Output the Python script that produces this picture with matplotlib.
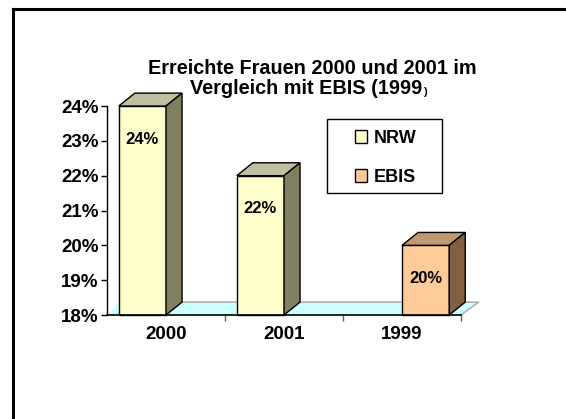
import matplotlib
matplotlib.use("Agg")
import matplotlib.pyplot as plt
from matplotlib.patches import Polygon, Rectangle, Patch
from matplotlib.lines import Line2D

plt.rcParams['font.family'] = ['Liberation Sans', 'DejaVu Sans']
plt.rcParams['font.weight'] = 'bold'

# data
categories = ['2000', '2001', '1999']
nrw = [24, 22, None]
ebis = [None, None, 20]
yticks = [18, 19, 20, 21, 22, 23, 24]

# colours (front, top, side)
nrw_col = ('#FFFFCC', '#C0C0A0', '#808060')
ebis_col = ('#FFCC99', '#C09970', '#806040')

bar_w = 0.4
dx, dy = 0.136, 0.37   # 3d depth in data units
base = 18

fig = plt.figure(figsize=(5.66, 4.19), dpi=100)
ax = fig.add_axes([107 / 566, 1 - 315 / 419, 354 / 566, 209 / 419])
ax.set_xlim(-0.5, 2.5)
ax.set_ylim(18, 24)

# floor
floor = Polygon([(-0.5, base), (2.5, base), (2.5 + dx * 1.1, base + dy),
                 (-0.5 + dx * 0.8, base + dy)],
                closed=True, facecolor='#CCFFFF', edgecolor='none', clip_on=False, zorder=1)
ax.add_patch(floor)
ax.plot([-0.5 + dx * 0.8, 2.5 + dx * 1.1, 2.5], [base + dy, base + dy, base],
        color='#B0B0B0', lw=1.2, clip_on=False, zorder=1.5)


def bar3d(x0, v, cols):
    front, top, side = cols
    ax.add_patch(Rectangle((x0, base), bar_w, v - base, facecolor=front,
                           edgecolor='black', lw=1, clip_on=False, zorder=3))
    ax.add_patch(Polygon([(x0, v), (x0 + bar_w, v), (x0 + bar_w + dx, v + dy), (x0 + dx, v + dy)],
                         closed=True, facecolor=top, edgecolor='black', lw=1, clip_on=False, zorder=3))
    ax.add_patch(Polygon([(x0 + bar_w, base), (x0 + bar_w + dx, base + dy),
                          (x0 + bar_w + dx, v + dy), (x0 + bar_w, v)],
                         closed=True, facecolor=side, edgecolor='black', lw=1, clip_on=False, zorder=3))
    ax.text(x0 + bar_w / 2, v - 0.95, '%d%%' % v, ha='center', va='center',
            fontsize=12, fontweight='bold', zorder=4)


for i, cat in enumerate(categories):
    if nrw[i] is not None:
        bar3d(i - bar_w, nrw[i], nrw_col)
    if ebis[i] is not None:
        bar3d(i, ebis[i], ebis_col)

# axes styling
for s in ['top', 'right']:
    ax.spines[s].set_visible(False)
ax.spines['left'].set_linewidth(1)
ax.spines['bottom'].set_linewidth(1.2)
ax.spines['bottom'].set_zorder(5)
ax.set_yticks(yticks)
ax.set_yticklabels(['%d%%' % t for t in yticks], fontsize=13.5, fontweight='bold')
ax.tick_params(axis='y', length=4, width=1, pad=2)
ax.set_xticks([0, 1, 2])
ax.set_xticklabels(categories, fontsize=13.5, fontweight='bold')
ax.tick_params(axis='x', length=0, pad=8)
ax.set_xticks([0.5, 1.5, 2.5], minor=True)
ax.tick_params(axis='x', which='minor', length=4, width=1, color='#606060')
ax.patch.set_visible(False)

# legend (frame drawn separately so the box can be wider than its padding)
ax.add_patch(Rectangle((0.621, 0.584), 0.325, 0.354, transform=ax.transAxes,
                       facecolor='white', edgecolor='black', lw=1, zorder=6, clip_on=False))
handles = [Patch(facecolor=nrw_col[0], edgecolor='black', lw=1, label='NRW'),
           Patch(facecolor=ebis_col[0], edgecolor='black', lw=1, label='EBIS')]
leg = ax.legend(handles=handles, loc='upper left', bbox_to_anchor=(0.70, 0.885),
                frameon=False, prop={'size': 13, 'weight': 'bold'},
                handlelength=0.7, handleheight=0.7, handletextpad=0.35,
                labelspacing=1.2, borderpad=0, borderaxespad=0)
leg.set_zorder(7)

# title
fig.text(312 / 566, 1 - 68 / 419, 'Erreichte Frauen 2000 und 2001 im',
         ha='center', va='center', fontsize=14.3, fontweight='bold')
t2 = fig.text(306 / 566, 1 - 89 / 419, 'Vergleich mit EBIS (1999',
              ha='center', va='center', fontsize=14.3, fontweight='bold')
fig.canvas.draw()
bb = t2.get_window_extent()
fig.text(bb.x1 / 566 + 0.001, 1 - 92 / 419, ')', ha='left', va='center',
         fontsize=8, fontweight='bold')

# outer frame
fig.add_artist(Line2D([13 / 566, 13 / 566], [0, 1 - 9 / 419], color='black', lw=2.2,
                      transform=fig.transFigure, solid_capstyle='projecting'))
fig.add_artist(Line2D([13 / 566, 1], [1 - 9 / 419, 1 - 9 / 419], color='black', lw=2.2,
                      transform=fig.transFigure, solid_capstyle='projecting'))

fig.savefig('out.png', dpi=100)
